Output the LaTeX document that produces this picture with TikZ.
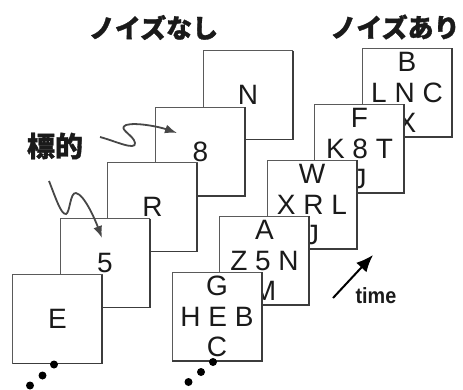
\documentclass[tikz,border=0pt]{standalone}
\usepackage{fontspec}
\setmainfont{Liberation Sans}
\newfontfamily\cjk{Noto Sans CJK JP}[BoldFeatures={FakeBold=1.2}]
\usetikzlibrary{arrows.meta,calc}
\definecolor{frame}{HTML}{5A5A5A}
\definecolor{ink}{HTML}{1A1A1A}
\begin{document}
\begin{tikzpicture}[x=1pt,y=-1pt,
  card/.style={draw=frame, line width=0.9pt, fill=white, minimum width=89.5pt, minimum height=89pt, inner sep=0pt, outer sep=0pt},
  shadeedge/.style={draw=ink!85, line width=1.7pt},
  glyph/.style={font=\fontsize{28}{30}\selectfont, text=ink, anchor=base, inner sep=0pt},
  title/.style={font=\cjk\bfseries\fontsize{26}{28}\selectfont, text=ink, inner sep=0pt},
  wave/.style={draw=black!72, line width=1.8pt, -{Latex[length=12pt,width=9pt]}},
  dot/.style={fill=black, circle, minimum size=8pt, inner sep=0pt}]
\useasboundingbox (0,0) rectangle (463,389);

% titles
\node[title] (t1) at (153.5,27.5) {ノイズなし};
\node[title] (t2) at (395,27) {ノイズあり};

% ---- noisy stack (right), back to front ----
\node[card] (nb) at (407,92.5) {};
\draw[shadeedge] (nb.north east) -- (nb.south east) -- (nb.south west);
\node[glyph] at ($(nb.center)+(0,-21)$) {B};
\node[glyph] at ($(nb.center)+(0,9.5)$) {L N C};
\node[glyph] at ($(nb.center)+(0,40)$) {X};

\node[card] (nf) at (359.5,148.5) {};
\draw[shadeedge] (nf.north east) -- (nf.south east) -- (nf.south west);
\node[glyph] at ($(nf.center)+(0,-21)$) {F};
\node[glyph] at ($(nf.center)+(0,9.5)$) {K 8 T};
\node[glyph] at ($(nf.center)+(0,40)$) {J};

\node[card] (nw) at (312,204.5) {};
\draw[shadeedge] (nw.north east) -- (nw.south east) -- (nw.south west);
\node[glyph] at ($(nw.center)+(0,-21)$) {W};
\node[glyph] at ($(nw.center)+(0,9.5)$) {X R L};
\node[glyph] at ($(nw.center)+(0,40)$) {J};

\node[card] (na) at (264.5,260.5) {};
\draw[shadeedge] (na.north east) -- (na.south east) -- (na.south west);
\node[glyph] at ($(na.center)+(0,-21)$) {A};
\node[glyph] at ($(na.center)+(0,9.5)$) {Z 5 N};
\node[glyph] at ($(na.center)+(0,40)$) {M};

\node[card] (ng) at (217,316.5) {};
\draw[shadeedge] (ng.north east) -- (ng.south east) -- (ng.south west);
\node[glyph] at ($(ng.center)+(0,-21)$) {G};
\node[glyph] at ($(ng.center)+(0,9.5)$) {H E B};
\node[glyph] at ($(ng.center)+(0,40)$) {C};

% ---- clean stack (left), back to front ----
\node[card] (cn) at (248,95) {};
\draw[shadeedge] (cn.north east) -- (cn.south east) -- (cn.south west);
\node[glyph] at ($(cn.center)+(0,9.5)$) {N};

\node[card] (c8) at (200.5,151.5) {};
\draw[shadeedge] (c8.north east) -- (c8.south east) -- (c8.south west);
\node[glyph] at ($(c8.center)+(0,9.5)$) {8};

\node[card] (cr) at (152.5,207) {};
\draw[shadeedge] (cr.north east) -- (cr.south east) -- (cr.south west);
\node[glyph] at ($(cr.center)+(0,9.5)$) {R};

\node[card] (c5) at (105,263) {};
\draw[shadeedge] (c5.north east) -- (c5.south east) -- (c5.south west);
\node[glyph] at ($(c5.center)+(0,9.5)$) {5};

\node[card] (ce) at (57.5,319) {};
\draw[shadeedge] (ce.north east) -- (ce.south east) -- (ce.south west);
\node[glyph] at ($(ce.center)+(0,9.5)$) {E};

% target label and wavy arrows
\node[font=\cjk\bfseries\fontsize{28}{30}\selectfont, text=ink, inner sep=0pt] (tgt) at (55,146) {標的};
\coordinate (w1s) at (100,137);
\coordinate (w1e) at (177,133);
\coordinate (w2s) at (49,181);
\coordinate (w2e) at (102,238);
\draw[wave] (w1s) .. controls (115,141) and (136,151) .. (135,143)
  .. controls (134,135) and (117,129) .. (126,125)
  .. controls (136,122) and (160,127) .. (w1e);
\draw[wave] (w2s) .. controls (55,196) and (61,215) .. (66,214)
  .. controls (70,213) and (70,192) .. (76,193)
  .. controls (85,195) and (96,222) .. (w2e);

% time arrow
\coordinate (ta) at (333,298);
\coordinate (tb) at (373,255);
\draw[line width=2pt, black, -{Latex[length=17pt,width=14pt]}] (ta) -- (tb);
\node[font=\bfseries\fontsize{22}{24}\selectfont, text=ink, inner sep=0pt, anchor=base, xscale=0.9] (time) at (376,303) {time};

% dots
\node[dot] (d1) at (54,364.5) {};
\node[dot] (d2) at (42.5,375.5) {};
\node[dot] (d3) at (30,385.5) {};
\node[dot] (d4) at (213,362) {};
\node[dot] (d5) at (201,372) {};
\node[dot] (d6) at (188.5,382) {};
\end{tikzpicture}
\end{document}
